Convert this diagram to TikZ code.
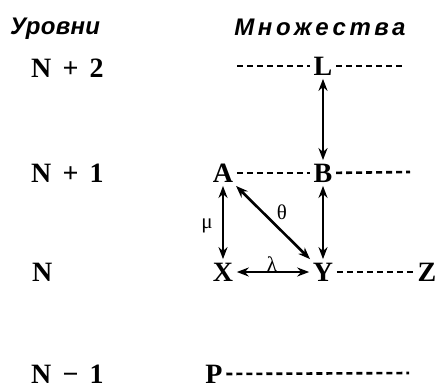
\documentclass[tikz,border=0pt]{standalone}
\usepackage{fontspec}
\setmainfont{Liberation Serif}
\newfontfamily\headfont{Liberation Sans}
\usetikzlibrary{arrows.meta}
\begin{document}
\begin{tikzpicture}[x=1pt,y=-1pt,
  lvl/.style={anchor=west,font=\bfseries\fontsize{28}{32}\selectfont,inner sep=0pt},
  setnode/.style={font=\bfseries\fontsize{28}{32}\selectfont,inner sep=3.5pt},
  head/.style={font=\headfont\bfseries\itshape\fontsize{24}{27}\selectfont,inner sep=0pt},
  greek/.style={font=\fontsize{21}{23}\selectfont,inner sep=0pt},
  dline/.style={line width=2.6pt,dash pattern=on 6pt off 4pt},
  dbl/.style={line width=2.6pt,{Stealth[length=12pt,width=9pt]}-{Stealth[length=12pt,width=9pt]}}]
\useasboundingbox (0,0) rectangle (438,388);
% headers
\node[head] (h1) at (55,29) {\addfontfeature{LetterSpace=1}Уровни};
\node[head] (h2) at (320,27) {\addfontfeature{LetterSpace=15}Множества};
% level labels
\node[lvl] (n2) at (31,68) {N\hspace{0.4em}+\hspace{0.4em}2};
\node[lvl] (n1) at (31,173) {N\hspace{0.4em}+\hspace{0.4em}1};
\node[lvl] (n0) at (32,272) {N};
\node[lvl] (nm) at (31,374) {N\hspace{0.4em}−\hspace{0.4em}1};
% sets
\node[setnode] (L) at (323,66) {L};
\node[setnode] (A) at (223,173) {A};
\node[setnode] (B) at (323,173) {B};
\node[setnode] (X) at (223,272) {X};
\node[setnode] (Y) at (323,272) {Y};
\node[setnode] (Z) at (427,272) {Z};
\node[setnode] (P) at (214,374) {P};
% free ends
\coordinate (Lw) at (237,66);
\coordinate (Le) at (405,66);
\coordinate (Be) at (410,172);
\coordinate (Pe) at (409,373);
% dashed lines
\draw[dline] (Lw) -- (L);
\draw[dline] (L) -- (Le);
\draw[dline] (A) -- (B);
\draw[dline] (B) -- (Be);
\draw[dline] (Y) -- (Z);
\draw[dline] (P.east) -- (Pe);
% arrows
\draw[dbl] (L) -- (B);
\draw[dbl] (B) -- (Y);
\draw[dbl] (A) -- (X);
\draw[dbl] (A) -- (Y);
\draw[dbl] (X) -- (Y);
% labels
\node[greek] (th) at (282,212) {θ};
\node[greek] (mu) at (207,226) {μ};
\node[greek] (la) at (272,264) {λ};
\end{tikzpicture}
\end{document}
